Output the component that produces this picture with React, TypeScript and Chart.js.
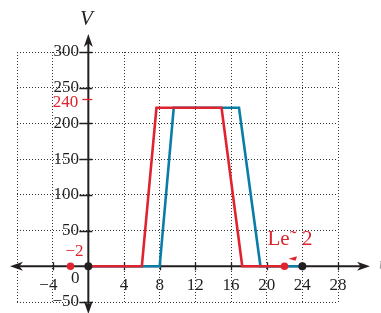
import React, { useEffect, useRef } from 'react';
import { Chart, registerables } from 'chart.js';

Chart.register(...registerables);

// ---- data ----
const redT = [0, 6, 7.64, 14.94, 17.26, 22];
const redV = [0, 0, 222, 222, 0, 0];
const blueT = [0, 8, 9.58, 16.9, 19.3, 24];
const blueV = [0, 0, 222, 222, 0, 0];
const redDotT = [-2, 22];
const blackDotT = [0, 24];
const xTickValues = [-8, -4, 0, 4, 8, 12, 16, 20, 24, 28];
const yTickValues = [-50, 0, 50, 100, 150, 200, 250, 300];
const xMin = -8;
const xMax = 28;
const yMin = -50;
const yMax = 300;
const peakLabel = '240';
const peakLabelValue = 234;
const startLabel = '\u22122';
const endLabel = 'Le\u02DC 2';

const RED = '#e0242f';
const BLUE = '#0a7da6';
const INK = '#231f20';
const SERIF = '"Liberation Serif", "DejaVu Serif", serif';

const W = 381;
const H = 340; // taller than the window; the extra strip is just outside the view

const minus = (v: number) => (v < 0 ? '\u2212' + Math.abs(v) : String(v));

function arrow(ctx: CanvasRenderingContext2D, tx: number, ty: number, dx: number, dy: number) {
  const len = 13;
  const half = 4.5;
  const bx = tx - dx * len;
  const by = ty - dy * len;
  const nx = tx - dx * len * 0.72;
  const ny = ty - dy * len * 0.72;
  ctx.beginPath();
  ctx.moveTo(tx, ty);
  ctx.lineTo(bx + -dy * half, by + dx * half);
  ctx.lineTo(nx, ny);
  ctx.lineTo(bx + dy * half, by - dx * half);
  ctx.closePath();
  ctx.fill();
}

const decor = {
  id: 'decor',
  beforeDatasetsDraw(chart: any) {
    const { ctx, chartArea, scales } = chart;
    const xs = scales.x;
    const ys = scales.y;
    const x0 = xs.getPixelForValue(0);
    const y0 = ys.getPixelForValue(0);
    ctx.save();
    ctx.strokeStyle = INK;
    ctx.fillStyle = INK;
    ctx.lineWidth = 2;
    const leftTip = chartArea.left - 7;
    const rightTip = chartArea.right + 32;
    const topTip = chartArea.top - 18;
    const botTip = chartArea.bottom + 12;
    ctx.beginPath();
    ctx.moveTo(leftTip + 6, y0);
    ctx.lineTo(rightTip - 6, y0);
    ctx.moveTo(x0, topTip + 6);
    ctx.lineTo(x0, botTip - 6);
    ctx.stroke();
    arrow(ctx, leftTip, y0, -1, 0);
    arrow(ctx, rightTip, y0, 1, 0);
    arrow(ctx, x0, topTip, 0, -1);
    arrow(ctx, x0, botTip, 0, 1);
    // tick marks crossing the axes
    ctx.lineWidth = 1.3;
    ctx.beginPath();
    yTickValues.forEach((v) => {
      if (v === 0) return;
      const py = Math.round(ys.getPixelForValue(v)) + 0.5;
      ctx.moveTo(x0 - 9, py);
      ctx.lineTo(x0 + 4, py);
    });
    xTickValues.forEach((v) => {
      if (v === 0 || v === xMin) return;
      const px = Math.round(xs.getPixelForValue(v)) + 0.5;
      ctx.moveTo(px, y0 - 4);
      ctx.lineTo(px, y0 + 4);
    });
    ctx.stroke();
    ctx.restore();
  },
  afterDraw(chart: any) {
    const { ctx, chartArea, scales } = chart;
    const xs = scales.x;
    const ys = scales.y;
    const x0 = xs.getPixelForValue(0);
    const y0 = ys.getPixelForValue(0);
    ctx.save();
    // axis titles
    ctx.fillStyle = INK;
    ctx.font = 'italic 21px ' + SERIF;
    ctx.textAlign = 'center';
    ctx.textBaseline = 'alphabetic';
    ctx.fillText('V', x0 - 2, chartArea.top - 27);
    ctx.fillStyle = '#999';
    ctx.font = 'italic 17px ' + SERIF;
    ctx.textAlign = 'left';
    ctx.textBaseline = 'middle';
    ctx.fillText('t', chartArea.right + 41, y0 - 2);
    // origin label
    ctx.fillStyle = INK;
    ctx.font = '17px ' + SERIF;
    ctx.textAlign = 'center';
    ctx.fillText('0', x0 - 13, y0 + 12);
    // red annotations
    ctx.fillStyle = RED;
    ctx.strokeStyle = RED;
    ctx.textAlign = 'center';
    ctx.fillText(startLabel, xs.getPixelForValue(-2) + 4, y0 - 15);
    const py = ys.getPixelForValue(peakLabelValue);
    ctx.textAlign = 'right';
    ctx.fillText(peakLabel, x0 - 10, py + 3);
    ctx.lineWidth = 1.3;
    ctx.beginPath();
    ctx.moveTo(x0 - 6, Math.round(py) + 0.5);
    ctx.lineTo(x0 + 4, Math.round(py) + 0.5);
    ctx.stroke();
    ctx.font = '21px ' + SERIF;
    ctx.textAlign = 'left';
    ctx.textBaseline = 'alphabetic';
    const ex = xs.getPixelForValue(22);
    ctx.fillText(endLabel, ex - 17, y0 - 21);
    ctx.beginPath();
    ctx.moveTo(ex + 4, y0 - 7.5);
    ctx.lineTo(ex + 12.5, y0 - 10);
    ctx.lineTo(ex + 11, y0 - 5.5);
    ctx.closePath();
    ctx.fill();
    ctx.restore();
  },
};

export default function App() {
  const ref = useRef<HTMLCanvasElement | null>(null);
  useEffect(() => {
    if (!ref.current) return;
    const chart = new Chart(ref.current, {
      type: 'scatter',
      data: {
        datasets: [
          {
            label: 'black dots',
            data: blackDotT.map((t) => ({ x: t, y: 0 })),
            showLine: false,
            pointRadius: 4,
            pointBackgroundColor: INK,
            pointBorderColor: INK,
            pointBorderWidth: 0,
          },
          {
            label: 'red dots',
            data: redDotT.map((t) => ({ x: t, y: 0 })),
            showLine: false,
            pointRadius: 3.8,
            pointBackgroundColor: RED,
            pointBorderColor: RED,
            pointBorderWidth: 0,
          },
          {
            label: 'red',
            data: redT.map((t, i) => ({ x: t, y: redV[i] })),
            showLine: true,
            borderColor: RED,
            borderWidth: 2.6,
            pointRadius: 0,
            tension: 0,
          },
          {
            label: 'blue',
            data: blueT.map((t, i) => ({ x: t, y: blueV[i] })),
            showLine: true,
            borderColor: BLUE,
            borderWidth: 2.6,
            pointRadius: 0,
            tension: 0,
          },
        ],
      },
      options: {
        animation: false,
        responsive: false,
        events: [],
        layout: { padding: { left: 17, right: 43, top: 52, bottom: H - 302 } },
        plugins: { legend: { display: false }, tooltip: { enabled: false } },
        scales: {
          x: {
            type: 'linear',
            position: { y: 0 } as any,
            min: xMin,
            max: xMax,
            afterBuildTicks: (s: any) => {
              s.ticks = xTickValues.map((v) => ({ value: v }));
            },
            ticks: {
              autoSkip: false,
              maxRotation: 0,
              padding: 9,
              color: INK,
              font: { family: SERIF, size: 17 },
              callback: (v: any) => (v === 0 || v === xMin ? '' : v < 0 ? minus(v) + '\u2002' : String(v)),
            },
            grid: { color: '#333', lineWidth: 1, drawTicks: false },
            border: { display: false, dash: [1, 2] },
          },
          y: {
            type: 'linear',
            // labels are right-aligned just left of the vertical axis
            position: { x: -1.05 } as any,
            min: yMin,
            max: yMax,
            afterBuildTicks: (s: any) => {
              s.ticks = yTickValues.map((v) => ({ value: v }));
            },
            ticks: {
              autoSkip: false,
              padding: 0,
              color: INK,
              font: { family: SERIF, size: 17 },
              callback: (v: any) => (v === 0 ? '' : minus(v)),
            },
            grid: { color: '#333', lineWidth: 1, drawTicks: false },
            border: { display: false, dash: [1, 2] },
          },
        },
      },
      plugins: [decor],
    });
    return () => chart.destroy();
  }, []);
  return (
    <div style={{ position: 'fixed', left: 0, top: 0, width: W, height: H, background: '#fff' }}>
      <canvas ref={ref} width={W} height={H} style={{ display: 'block' }} />
    </div>
  );
}
